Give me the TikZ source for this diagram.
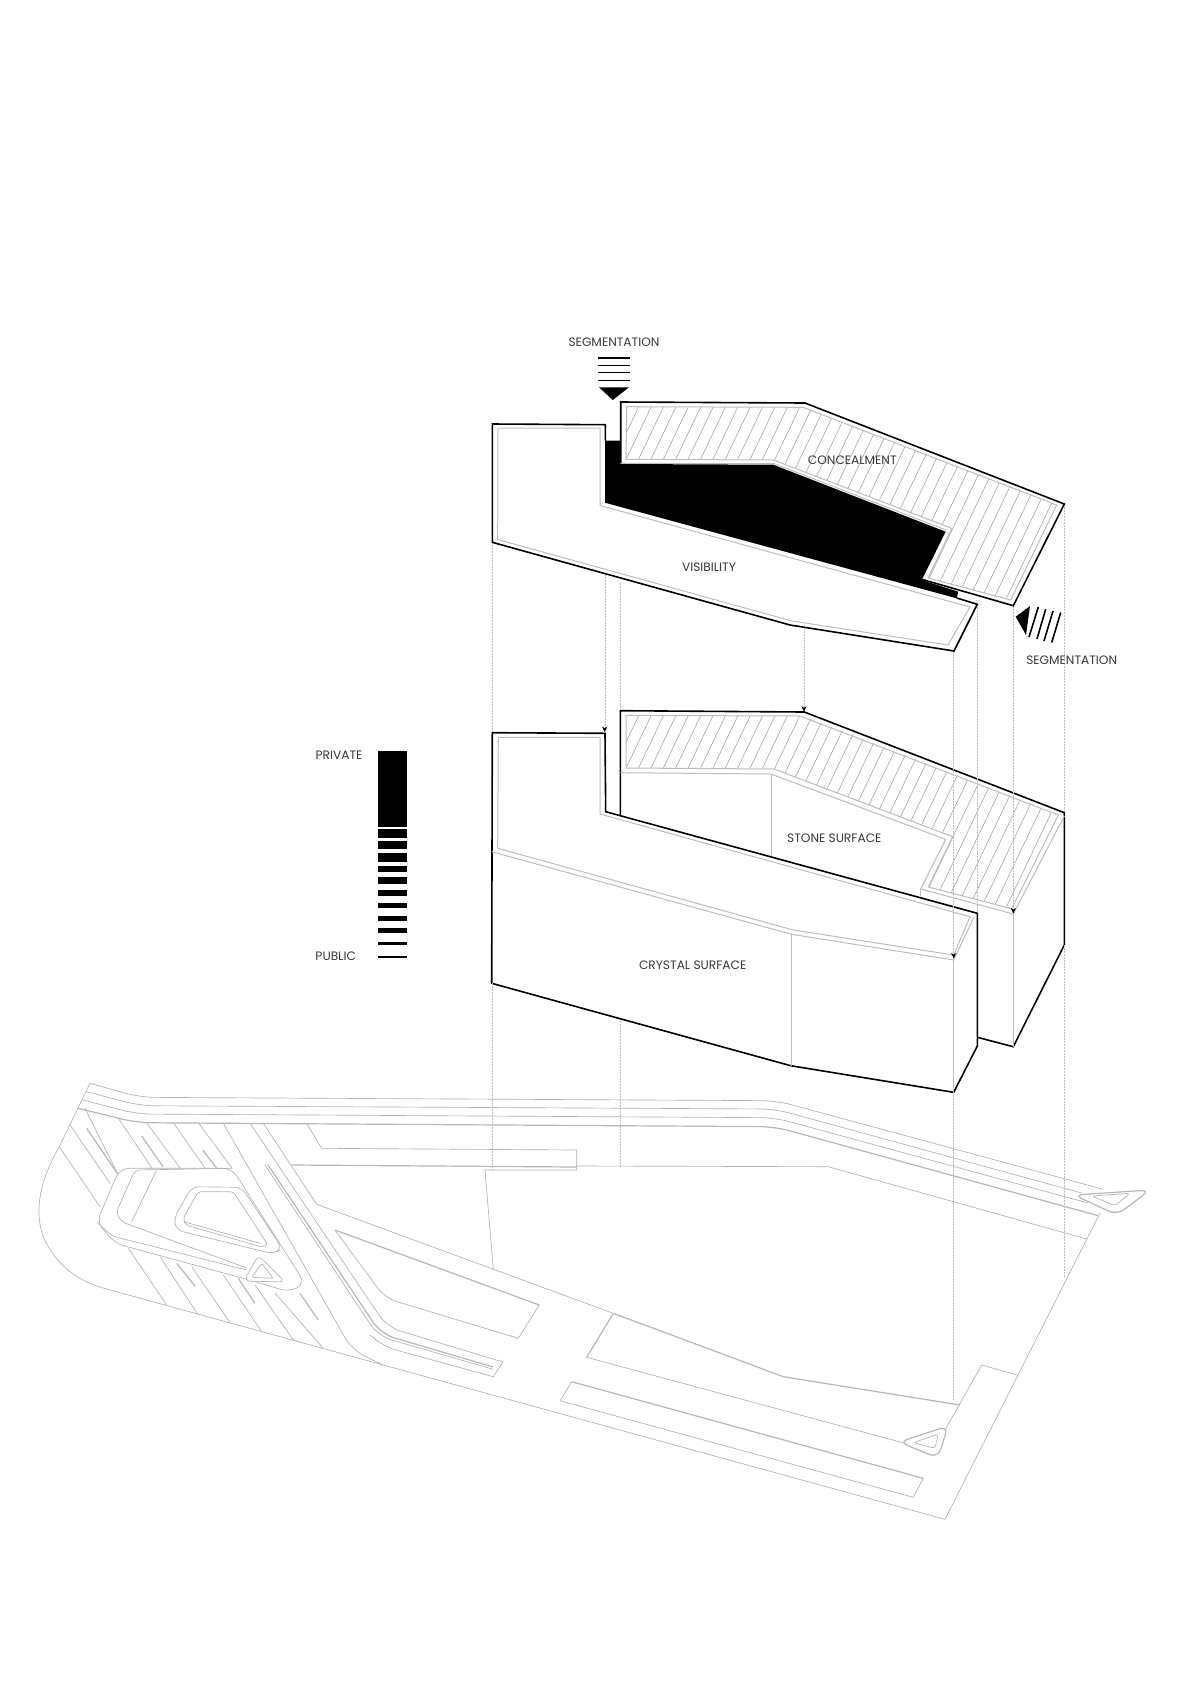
\documentclass[tikz,border=0pt]{standalone}
\usepackage{fontspec}
\setmainfont{Poppins}
\newcommand{\hatchpoly}{(626.7,406.7) -- (803,407.3) -- (1056.7,505) -- (1010.7,600) -- (928,578) -- (951.7,528.3) -- (773.3,460) -- (626,459.3) -- cycle}
\newcommand{\hatchlines}{\begin{scope}
  \clip \hatchpoly;
  \foreach \hx in {0,...,50} {
    \draw[hatch] (500+12.4*\hx,620) -- (500+12.4*\hx+150,305);
  }
\end{scope}}
\newcommand{\guidetip}[2]{\fill[black] (#1,#2) -- ++(-2.6,-5.6) -- ++(2.6,1.6) -- ++(2.6,-1.6) -- cycle;}
\tikzset{
  heavy/.style={draw=black,line width=1.6pt,line join=miter},
  dbl/.style={draw=black!26,line width=1pt},
  hatch/.style={draw=black!35,line width=.6pt},
  guide/.style={draw=black!26,line width=.7pt,dash pattern=on 1.6pt off 1.4pt},
  site/.style={draw=black!30,line width=.65pt,line join=round},
  sitethick/.style={draw=black!28,line width=1.2pt,line join=round},
  lab/.style={text=black!78,font=\fontsize{12.2}{14}\selectfont,inner sep=0pt},
  bar/.style={fill=black},
}
\begin{document}
\begin{tikzpicture}[x=1pt,y=-1pt]
\useasboundingbox (0,0) rectangle (1200,1698);
\fill[white] (0,0) rectangle (1200,1698);

% ---------- site plan ----------
\draw[site,rounded corners=15pt] (90,1083.3) -- (140,1097.3) -- (776.7,1100.7) -- (1103.3,1189.3);
\draw[site,rounded corners=15pt] (86.7,1091.7) -- (140,1105.7) -- (775,1109) -- (1081.7,1193);
\draw[site,rounded corners=15pt] (83.3,1100) -- (136.7,1114) -- (775,1117.7) -- (1088,1203);
\draw[sitethick,rounded corners=15pt] (78.3,1108.3) -- (136.7,1122.7) -- (775,1126.7) -- (1098.3,1215.7);
% boundary
\draw[site] (90,1083.3) -- (59.3,1146.7) .. controls (40,1180) and (34,1210) .. (43,1236) .. controls (54,1262) and (75,1280) .. (103,1288) -- (945,1519.3) -- (1100,1213);
\draw[site] (1017.3,1375) -- (981.7,1365) -- (945,1430);
% upper strip and road line
\draw[site] (306.7,1123.3) -- (321.7,1148.3) -- (576.7,1150) -- (576.7,1170) -- (485,1170) -- (493.3,1269);
\draw[sitethick] (291.7,1165) -- (576.7,1167);
\draw[site] (576.7,1166) -- (828.3,1166.7) -- (1086.7,1239);
% diagonals
\draw[site] (263.3,1123.3) -- (316.7,1204.3) -- (613.3,1313.3);
\draw[site,rounded corners=14pt] (250,1123.3) -- (387,1327) -- (503,1362);
\draw[site] (503,1362) -- (493.3,1376.7);
\draw[site,rounded corners=14pt] (265,1165) -- (378,1336) -- (493.3,1369.3);
\draw[sitethick,rounded corners=14pt] (268,1165) -- (381,1334) -- (493.3,1367);
\draw[site,rounded corners=14pt] (223.3,1123.3) -- (352,1350) -- (383,1365);
\draw[site,rounded corners=12pt] (370,1335) -- (385,1347) -- (493.3,1376.7);
% parcels
\draw[sitethick] (335,1230) -- (539.3,1305);
\draw[site,rounded corners=12pt] (335,1230) -- (385,1298) -- (518.3,1338.3);
\draw[site] (518.3,1338.3) -- (539.3,1305);
\draw[sitethick] (613.3,1313.3) -- (783.3,1376.7) -- (960,1405);
\draw[sitethick] (613.3,1313.3) -- (586.7,1357.3);
\draw[site] (586.7,1357.3) -- (905,1443.3);
\draw[sitethick] (571.7,1381.7) -- (923.3,1478.3);
\draw[site] (923.3,1478.3) -- (913.3,1497.3) -- (560,1400.7) -- (571.7,1381.7);
% parking stripes
\foreach \ax/\ay/\bx/\by in {85/1108.3/118.3/1175, 70/1125/110/1183.3, 59.3/1146.7/100/1206.7, 118.3/1118.3/153.3/1170, 146.7/1122.7/180/1168, 173.3/1122.7/205/1168, 198.3/1122.7/232/1168,
  128.3/1248.3/166.7/1305, 160/1256.7/198.3/1315, 191.7/1266.7/230/1322.7, 223.3/1275/261.7/1331.7, 255/1285/293.3/1340, 275/1293/323/1348}
  { \draw[site] (\ax,\ay) -- (\bx,\by); }
\foreach \ax/\ay/\bx/\by in {86.7/1128.3/118.3/1175, 141.7/1136/163/1166.7, 202.7/1150/216.7/1168.3, 176.7/1263.3/195/1286, 238.3/1278.3/255/1303.3, 300/1293.3/318.3/1320}
  { \draw[sitethick] (\ax,\ay) -- (\bx,\by); }
% island
\draw[site,rounded corners=9pt,fill=white] (120,1168.3) -- (232,1168.3) -- (305,1283.3) -- (290,1292) -- (246.7,1279.3) -- (115,1243.3) -- (96.7,1222) -- cycle;
\draw[site,rounded corners=5pt] (96.7,1222) -- (112,1236) -- (246.7,1270);
\draw[site,rounded corners=5pt] (232,1168.3) -- (135,1170) -- (116,1213) -- (122,1222) -- (246.7,1268);
\draw[site] (156.7,1170) -- (131.7,1221.7);
\draw[site,rounded corners=7pt] (192,1186.7) -- (241.7,1187.3) -- (282,1248) -- (274,1254) -- (176,1230) -- (174,1218) -- cycle;
\draw[site,rounded corners=3pt] (198.3,1191.7) -- (233.3,1191.7) -- (268,1245) -- (262,1247) -- (185.7,1225) -- (183.3,1218) -- cycle;
\draw[site] (184,1221.7) -- (260,1243.3);
\draw[site,fill=white,rounded corners=6pt] (258.3,1255) -- (285,1282) -- (244,1281) -- cycle;
\draw[site,rounded corners=2pt] (261.7,1263.3) -- (273.3,1278.3) -- (251.7,1277.3) -- cycle;
% corner triangles
\draw[sitethick,fill=white,rounded corners=9pt] (899,1442) -- (948,1426) -- (938,1458) -- cycle;
\draw[site,rounded corners=3pt] (913.3,1442.7) -- (938.3,1434) -- (935,1448.3) -- cycle;
\draw[sitethick,fill=white,rounded corners=9pt] (1074,1195) -- (1150,1190) -- (1117,1215) -- cycle;
\draw[site,rounded corners=3pt] (1091.7,1196) -- (1130,1193.3) -- (1115,1205.7) -- cycle;

% ---------- middle level: stone block ----------
\draw[heavy,fill=white] (620.3,710.7) -- (804.3,712) -- (1064.3,812.7) -- (1064.3,945) -- (1013.3,1046.7) -- (977.3,1037.3) -- (620.3,850) -- cycle;
\begin{scope}[yshift=-308.7pt]\hatchlines\end{scope}
\draw[dbl] (626,715.4) -- (800,716) -- (1058.3,815) -- (1011.7,908.7) -- (928.3,887) -- (952.7,836.7) -- (774,769) -- (626,768) -- cycle;
\draw[dbl] (620.3,772.7) -- (771,774) -- (945.7,839.3) -- (920.7,889) -- (1013.3,914) -- (1064.3,816);
\draw[dbl] (920.7,889) -- (920.7,896);
\draw[dbl] (771,775) -- (771,860);
\draw[dbl] (1013.3,914) -- (1013.3,1046.7);

% ---------- middle level: crystal block ----------
\draw[heavy,fill=white] (492.3,732.7) -- (605,733.3) -- (605.7,811.7) -- (977.3,913.3) -- (977.3,1046) -- (953.7,1092.3) -- (790.7,1065.7) -- (491.7,983.3) -- cycle;
\draw[dbl] (498.3,737.3) -- (600,737.3) -- (600,814) -- (970,916.7) -- (953.7,955) -- (793.3,930) -- (497.7,848.3) -- cycle;
\draw[dbl] (491.7,851.7) -- (791.7,934.3) -- (953.7,960) -- (974,917);
\draw[dbl] (791.7,934.3) -- (791.7,1065.7);
\draw[dbl] (953.7,960) -- (953.7,1092.3);

% ---------- guides ----------
\foreach \gx/\ga/\gb in {492.3/542/732, 492.3/983/1172, 605/574/728, 620.3/583/710, 620.3/1021/1167, 804/628/708, 953.7/651/954, 953.7/1092/1401, 977.3/604/913, 1013.3/606/908, 1064.3/504/812, 1064.3/945/1278}
  { \draw[guide] (\gx,\ga) -- (\gx,\gb); }
\guidetip{604.7}{732.2}
\guidetip{804}{711.8}
\guidetip{953.7}{958.5}
\guidetip{1013.3}{913.5}

% ---------- top level: concealment ----------
\fill[black] (605,440.7) -- (620,440.7) -- (620.7,464) -- (773.3,464.7) -- (945.7,531.7) -- (921.7,580) -- (958.3,591.7) -- (956.7,598.3) -- (605,502.7) -- cycle;
\draw[heavy] (620.7,463.3) -- (620.7,402) -- (805,403) -- (1064.3,504) -- (1013.3,605.7) -- (921.7,579.3);
\hatchlines
\draw[dbl] \hatchpoly;
\draw[dbl] (620.7,463.3) -- (773.3,463.3) -- (946,530);
\node[lab] (conceal) at (852.3,460.3) {CONCEALMENT};

% ---------- top level: visibility ----------
\draw[heavy] (605.3,440.7) -- (605.3,424.7) -- (492.3,424) -- (492.3,542.3) -- (790,625) -- (954,651) -- (977.3,604.3) -- (956.7,598);
\draw[dbl] (600,428) -- (498,428) -- (497.7,539.5) -- (792,621) -- (948,645) -- (970,607) -- (600,505.5) -- cycle;
\node[lab] (visibility) at (709,567.3) {VISIBILITY};
\node[lab] (stone) at (834.3,838.7) {STONE SURFACE};
\node[lab] (crystal) at (692.7,965.7) {CRYSTAL SURFACE};

% ---------- segmentation arrows ----------
\node[lab] (segtop) at (614,342.7) {SEGMENTATION};
\foreach \ly in {358,365.3,372.7,380.3} { \draw[black,line width=1.4pt] (597.7,\ly) -- (630,\ly); }
\fill[black] (599,387.3) -- (629,387.3) -- (612.7,400) -- cycle;
\node[lab] (segright) at (1071.7,660.7) {SEGMENTATION};
\fill[black] (1030,606) -- (1015.7,616.7) -- (1026,635) -- cycle;
\foreach \ax/\ay/\bx/\by in {1038.3/607/1029/637, 1045.7/609/1037/639, 1053/611/1044/641, 1060.7/612.5/1051.7/642.5}
  { \draw[black,line width=1.6pt] (\ax,\ay) -- (\bx,\by); }

% ---------- legend ----------
\node[lab] (private) at (339,755) {PRIVATE};
\node[lab] (public) at (335.7,956.7) {PUBLIC};
\foreach \ba/\bb in {751/827, 829.3/838.3, 840.7/849.3, 852.7/861.7, 865.7/872.3, 877/883.7, 889.7/896.3, 903.3/908.3, 916.3/921, 928.3/933.3, 942/945, 955.7/958}
  { \fill[bar] (377.7,\ba) rectangle (406.7,\bb); }
\end{tikzpicture}
\end{document}
